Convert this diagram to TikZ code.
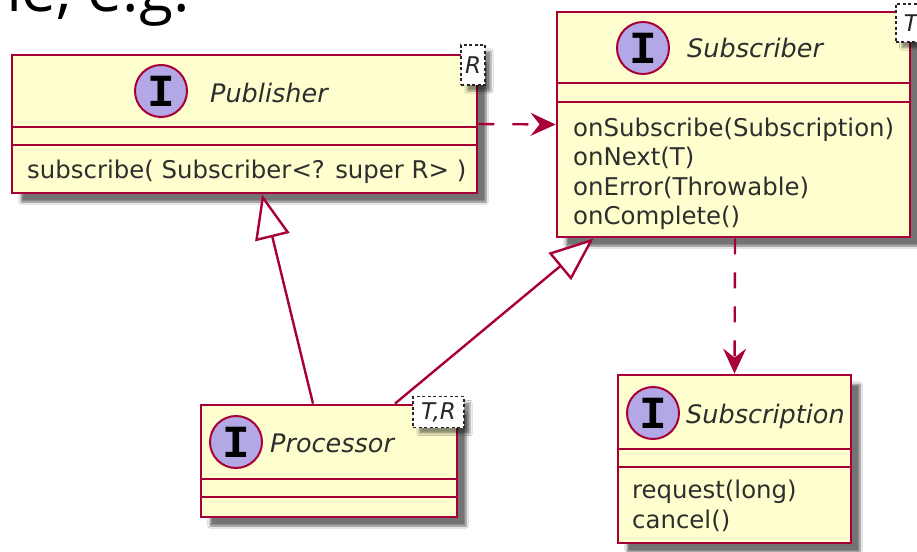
\documentclass[tikz,border=0pt]{standalone}
\usepackage{fontspec}
\setmainfont{DejaVu Sans}
\newfontfamily\glyphfont{Liberation Mono}
\newfontfamily\headfont{Open Sans}
\usetikzlibrary{arrows.meta,shadows.blur}
\definecolor{umlfill}{HTML}{FEFECE}
\definecolor{umlline}{HTML}{A80036}
\definecolor{spotfill}{HTML}{B4A7E5}
\tikzset{
  umlbox/.style={draw=umlline, fill=umlfill, line width=2.8pt, inner sep=0pt,
    blur shadow={shadow xshift=9pt, shadow yshift=-9pt, shadow blur steps=6, shadow opacity=55}},
  divider/.style={draw=umlline, line width=2.6pt},
  spot/.style={circle, draw=umlline, fill=spotfill, line width=2pt, minimum size=52pt, inner sep=0pt,
    font=\glyphfont\bfseries\fontsize{46}{46}\selectfont},
  ctitle/.style={anchor=base west, font=\itshape\fontsize{25.5}{25.5}\selectfont, text=black!82, inner sep=0pt},
  cmethod/.style={anchor=base west, font=\fontsize{24.4}{24.4}\selectfont, text=black!82, inner sep=0pt},
  tparam/.style={draw=black!85, dash pattern=on 3pt off 2.5pt, fill=white, line width=1.8pt,
    font=\itshape\fontsize{23}{23}\selectfont, text=black!85, inner sep=0pt,
    blur shadow={shadow xshift=6pt, shadow yshift=-6pt, shadow blur steps=4, shadow opacity=45}},
  realize/.style={draw=umlline, line width=2.4pt, -{Triangle[fill=white, length=44pt, width=35pt, line width=2.4pt]}},
  depend/.style={draw=umlline, line width=2.4pt, dash pattern=on 16pt off 18pt,
    -{Stealth[length=25pt, width=23pt, inset=9pt]}},
}
\begin{document}
\begin{tikzpicture}[x=1pt, y=-1pt]
\path[use as bounding box, fill=white] (0,0) rectangle (917,551);
\begin{scope}
\clip (0,0) rectangle (917,551);

% heading text above the diagram, mostly out of frame
\node[anchor=base west, inner sep=0pt, font=\headfont\fontsize{62}{62}\selectfont] (head) at (-36,12) {me, e.g.};

% Publisher
\node[umlbox, minimum width=465pt, minimum height=138pt] (pub) at (244.5,124) {};
\draw[divider] (pub.west |- 0,127) -- (pub.east |- 0,127);
\draw[divider] (pub.west |- 0,145) -- (pub.east |- 0,145);
\node[spot] (pubspot) at (161,91) {I};
\node[ctitle] (pubname) at (210,102) {Publisher};
\node[cmethod] (pubop1) at (27,178) {subscribe( Subscriber<? super R> )};
\node[tparam, minimum width=24pt, minimum height=40pt] (pubt) at (473,65) {R};

% Subscriber
\node[umlbox, minimum width=353pt, minimum height=225pt] (sub) at (733.5,124.5) {};
\draw[divider] (sub.west |- 0,83) -- (sub.east |- 0,83);
\draw[divider] (sub.west |- 0,102) -- (sub.east |- 0,102);
\node[spot] (subspot) at (643,48) {I};
\node[ctitle] (subname) at (687,58) {Subscriber};
\node[cmethod] (subop1) at (573,136) {onSubscribe(Subscription)};
\node[cmethod] (subop2) at (573,165.5) {onNext(T)};
\node[cmethod] (subop3) at (573,195) {onError(Throwable)};
\node[cmethod] (subop4) at (573,224.5) {onComplete()};
\node[tparam, minimum width=30pt, minimum height=38pt, anchor=north west] (subt) at (895,3) {T\hspace{8pt}};

% Processor
\node[umlbox, minimum width=256pt, minimum height=112pt] (proc) at (329,461) {};
\draw[divider] (proc.west |- 0,479) -- (proc.east |- 0,479);
\draw[divider] (proc.west |- 0,497) -- (proc.east |- 0,497);
\node[spot] (procspot) at (236,442) {I};
\node[ctitle] (procname) at (270,452) {Processor};
\node[tparam, minimum width=51pt, minimum height=31pt] (proct) at (438.5,412) {T,R};

% Subscription
\node[umlbox, minimum width=233pt, minimum height=168pt] (subn) at (734.5,459) {};
\draw[divider] (subn.west |- 0,449) -- (subn.east |- 0,449);
\draw[divider] (subn.west |- 0,467) -- (subn.east |- 0,467);
\node[spot] (subnspot) at (653,413) {I};
\node[ctitle] (subnname) at (686,423) {Subscription};
\node[cmethod] (subnop1) at (632,498) {request(long)};
\node[cmethod] (subnop2) at (632,528) {cancel()};

% relations
\draw[depend] (pub.east) -- (sub.west);
\draw[depend] ([xshift=1.5pt]sub.south) -- (subn.north);
\draw[realize] ([xshift=-16pt]proc.north) -- ([xshift=17.5pt]pub.south);
\draw[realize] ([xshift=66pt]proc.north) -- ([xshift=38pt]sub.south west);
\end{scope}
\end{tikzpicture}
\end{document}
